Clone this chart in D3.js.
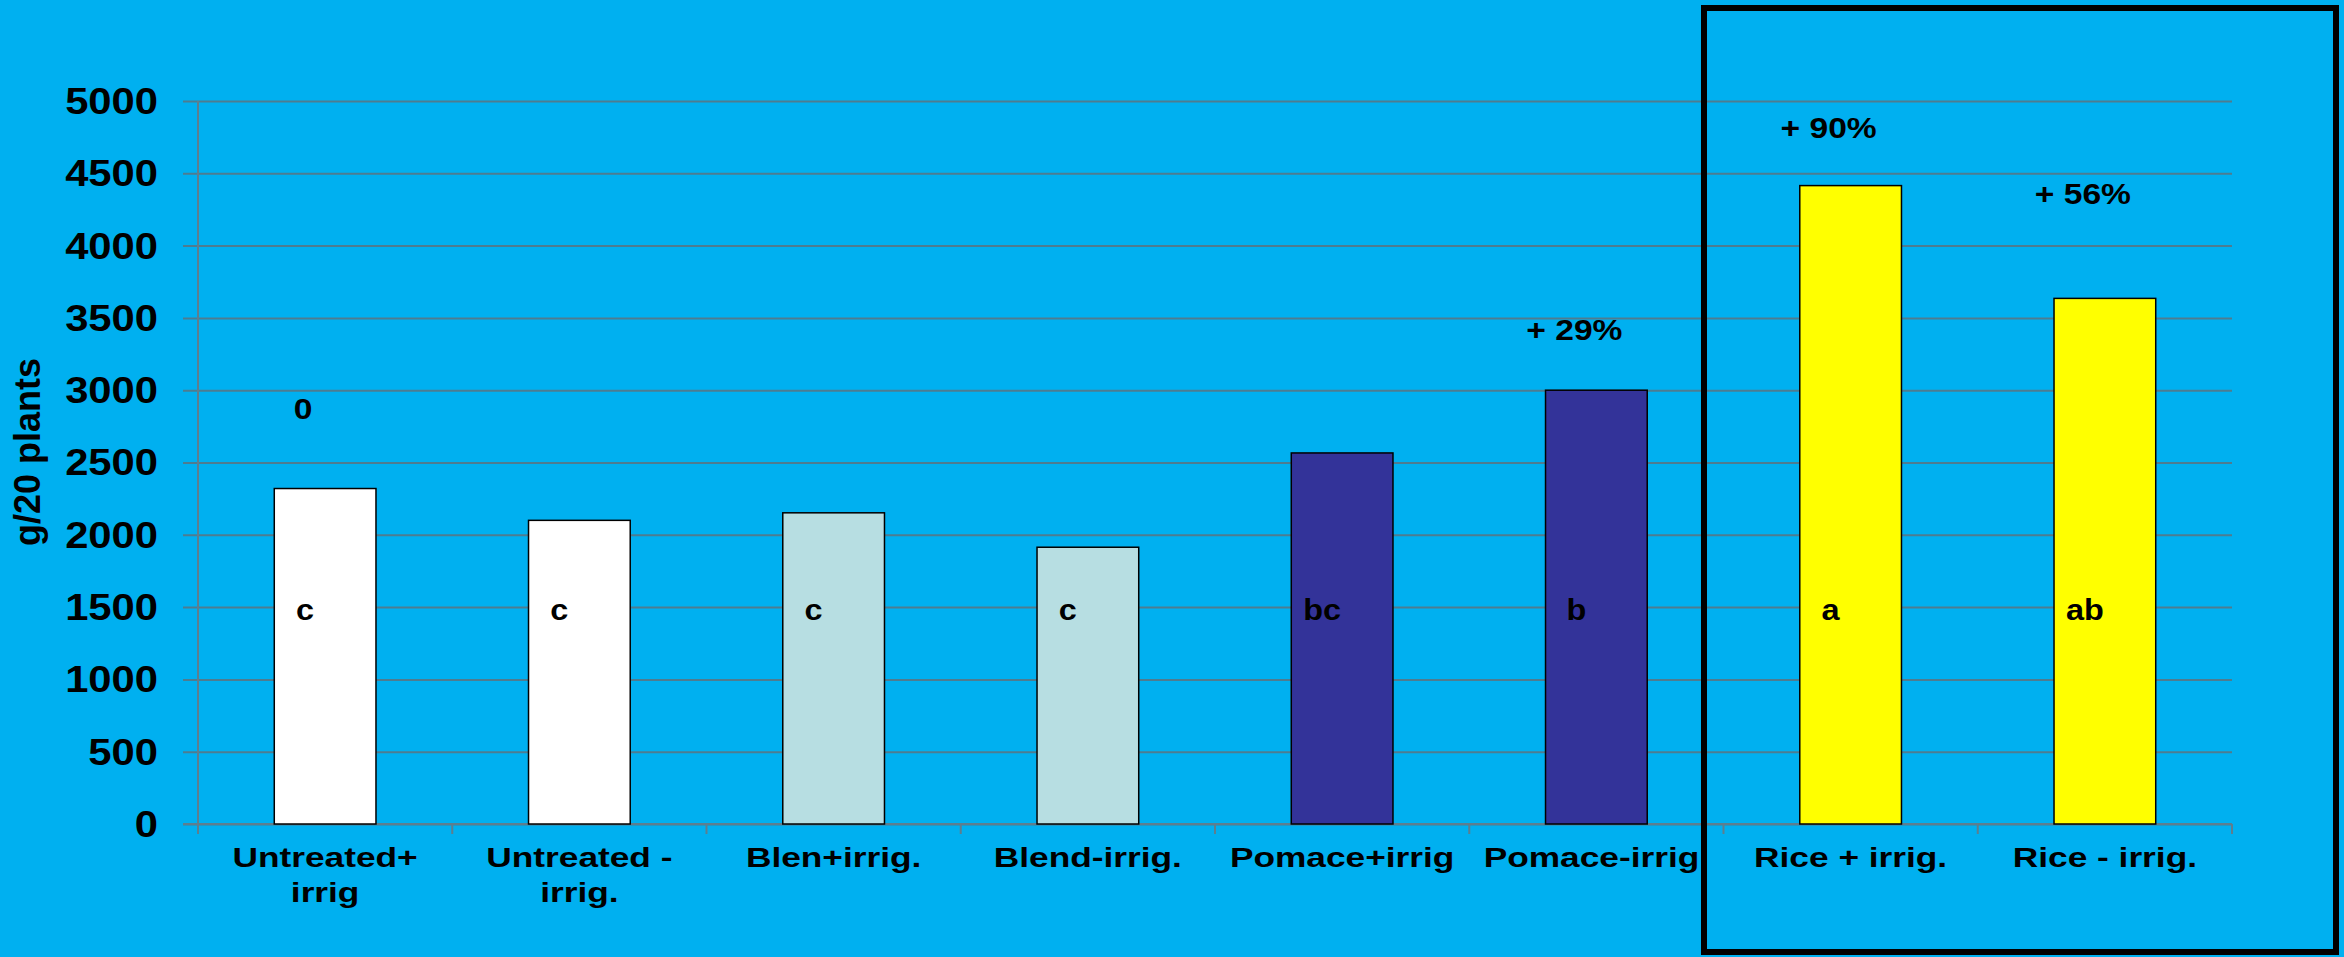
<!DOCTYPE html>
<html>
<head>
<meta charset="utf-8">
<script src="https://cdn.jsdelivr.net/npm/d3@7/dist/d3.min.js"></script>
<style>
  html, body { margin: 0; padding: 0; background: #00B0F0; }
  svg { display: block; }
  text { font-family: "Liberation Sans", Arial, sans-serif; font-weight: bold; fill: #000; }
</style>
</head>
<body>
<svg id="chart" width="2344" height="957"></svg>
<script>
// ---- data ----
const categories = ["Untreated+\nirrig", "Untreated -\nirrig.", "Blen+irrig.", "Blend-irrig.",
                    "Pomace+irrig", "Pomace-irrig.", "Rice + irrig.", "Rice - irrig."];
const values = [2320, 2100, 2152, 1914, 2566, 3000, 4415, 3635];
const groupLetters = ["c", "c", "c", "c", "bc", "b", "a", "ab"];
const yTicks = [0, 500, 1000, 1500, 2000, 2500, 3000, 3500, 4000, 4500, 5000];
const noteCategories = ["Untreated+\nirrig", "Pomace-irrig.", "Rice + irrig.", "Rice - irrig."];
const noteTexts = ["0", "+ 29%", "+ 90%", "+ 56%"];
const noteLevels = [2876, 3423, 4819, 4363];   // value level where each note sits
const letterLevel = 1470;
const yTitle = "g/20 plants";

// ---- styles ----
const barColors = ["#FFFFFF", "#FFFFFF", "#B7DEE2", "#B7DEE2", "#333399", "#333399", "#FFFF00", "#FFFF00"];
const color = d3.scaleOrdinal().domain(categories).range(barColors);

const svg = d3.select("#chart");
svg.append("rect").attr("width", 2344).attr("height", 957).attr("fill", "#00B0F0");

const pLeft = 198, pRight = 2232, pTop = 101, pBottom = 824;
const x = d3.scaleBand().domain(categories).range([pLeft, pRight]).paddingInner(0.6).paddingOuter(0.3);
const y = d3.scaleLinear().domain([0, 5000]).range([pBottom, pTop]);

// gridlines + y axis
const yAxis = d3.axisLeft(y).tickValues(yTicks).tickSize(15).tickFormat("");
const gy = svg.append("g").attr("transform", `translate(${pLeft},0)`).call(yAxis);
gy.select(".domain").remove();
gy.selectAll(".tick line").attr("x1", -15).attr("x2", pRight - pLeft).attr("stroke", "#4E7C90").attr("stroke-width", 2);
svg.append("line").attr("x1", pLeft).attr("x2", pLeft).attr("y1", pTop).attr("y2", pBottom + 10)
   .attr("stroke", "#5E7E8E").attr("stroke-width", 2);

// y tick labels
svg.append("g").selectAll("text").data(yTicks).join("text")
  .attr("transform", d => `translate(158,${y(d)}) scale(1.16,1)`)
  .attr("text-anchor", "end").attr("dy", "0.36em")
  .style("font-size", "36px").text(d => d);

// y title
svg.append("text")
  .attr("transform", `translate(40,452) rotate(-90)`)
  .attr("text-anchor", "middle").style("font-size", "36px").text(yTitle);

// x axis
const step = x.step();
const boundaries = d3.range(categories.length + 1).map(i => pLeft + i * step);
svg.append("line").attr("x1", pLeft - 15).attr("x2", pRight).attr("y1", pBottom).attr("y2", pBottom)
   .attr("stroke", "#5E7E8E").attr("stroke-width", 2);
svg.append("g").selectAll("line").data(boundaries).join("line")
  .attr("x1", d => d).attr("x2", d => d).attr("y1", pBottom).attr("y2", pBottom + 10)
  .attr("stroke", "#5E7E8E").attr("stroke-width", 2);

// bars
svg.append("g").selectAll("rect").data(categories).join("rect")
  .attr("x", d => x(d)).attr("width", x.bandwidth())
  .attr("y", (d, i) => y(values[i])).attr("height", (d, i) => y(0) - y(values[i]))
  .attr("fill", d => color(d)).attr("stroke", "#000").attr("stroke-width", 1.5);

// category labels
const cl = svg.append("g").selectAll("text").data(categories).join("text")
  .attr("transform", d => `translate(${x(d) + x.bandwidth() / 2},867) scale(1.26,1)`)
  .attr("text-anchor", "middle").style("font-size", "28px");
cl.selectAll("tspan").data(d => d.split("\n")).join("tspan")
  .attr("x", 0).attr("dy", (d, i) => i === 0 ? 0 : 35).text(d => d);

// group letters inside bars
svg.append("g").selectAll("text").data(categories).join("text")
  .attr("transform", (d, i) => `translate(${x(d) + x.bandwidth() / 2 - 20},${y(letterLevel)}) scale(1.12,1)`)
  .attr("text-anchor", "middle").attr("dy", "0.3em")
  .style("font-size", "29px").text((d, i) => groupLetters[i]);

// percentage notes
svg.append("g").selectAll("text").data(noteTexts).join("text")
  .attr("transform", (d, i) => `translate(${x(noteCategories[i]) + x.bandwidth() / 2 - 22},${y(noteLevels[i])}) scale(1.12,1)`)
  .attr("text-anchor", "middle").attr("dy", "0.36em")
  .style("font-size", "30px").text(d => d);

// highlight box
svg.append("rect").attr("x", 1704).attr("y", 8).attr("width", 2336 - 1704).attr("height", 952 - 8)
  .attr("fill", "none").attr("stroke", "#000").attr("stroke-width", 6);
</script>
</body>
</html>
